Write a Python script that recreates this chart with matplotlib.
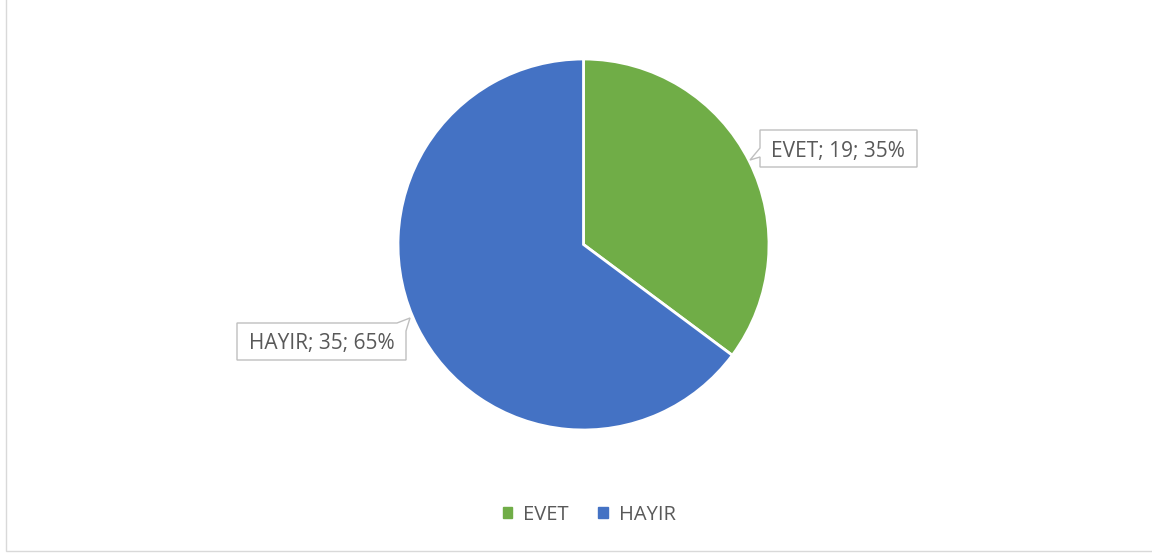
import matplotlib.pyplot as plt
from matplotlib.patches import Rectangle, Polygon
from matplotlib.transforms import Affine2D

categories = ["EVET", "HAYIR"]
counts = [19, 35]
colors = ["#70AD47", "#4472C4"]

W, H = 1152, 553
fig = plt.figure(figsize=(W / 100, H / 100), dpi=100)
plt.rcParams["font.family"] = ["Open Sans", "DejaVu Sans"]

# pixel coords (y down) -> figure fraction
px = Affine2D().scale(1 / W, -1 / H).translate(0, 1) + fig.transFigure

# chart frame
fig.patches.append(Rectangle((6, -10), 1200, 561, transform=px,
                             fill=False, edgecolor="#d9d9d9", linewidth=1))

cx, cy, r = 583.5, 244.5, 185.5
ax = fig.add_axes([(cx - r) / W, (H - cy - r) / H, 2 * r / W, 2 * r / H])
wedges, _ = ax.pie(counts, colors=colors, startangle=90, counterclock=False,
                   wedgeprops=dict(edgecolor="white", linewidth=2), radius=1)
ax.set_xlim(-1, 1)
ax.set_ylim(-1, 1)
ax.set_aspect("equal")

# callout boxes (outline with pointer), pixel coords
callouts = [
    [(760, 130), (917, 130), (917, 167), (760, 167), (760, 157), (750, 160), (760, 148)],
    [(237, 323), (397, 323), (410, 318), (406, 331), (406, 360), (237, 360)],
]
label_pos = [(838, 151), (321.5, 344)]
total = sum(counts)
for cat, n, box, (tx, ty) in zip(categories, counts, callouts, label_pos):
    fig.patches.append(Polygon(box, closed=True, transform=px, facecolor="white",
                               edgecolor="#bfbfbf", linewidth=1))
    pct = round(n / total * 100)
    fig.text(tx / W, 1 - ty / H, f"{cat}; {n}; {pct}%", ha="center", va="center",
             fontsize=15, color="#595959")

handles = [Rectangle((0, 0), 1, 1, color=c) for c in colors]
fig.legend(handles, categories, loc="center", bbox_to_anchor=(589 / W, 1 - 515 / H),
           ncol=2, frameon=False, fontsize=14.5, labelcolor="#595959",
           handlelength=0.45, handleheight=0.45, handletextpad=0.55, columnspacing=1.5)

fig.savefig("out.png", dpi=100)
